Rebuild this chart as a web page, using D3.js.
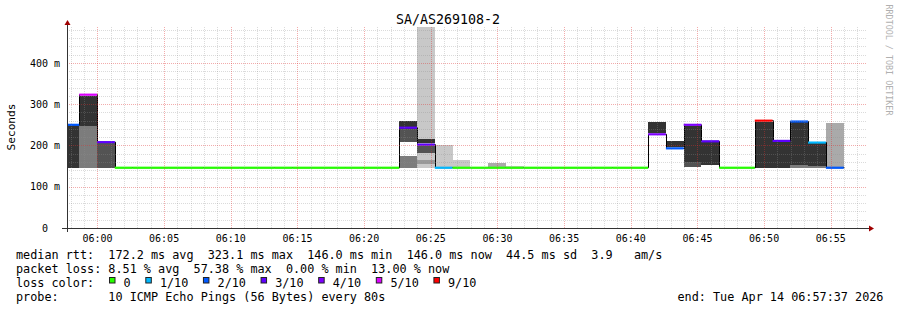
<!DOCTYPE html>
<html>
<head>
<meta charset="utf-8">
<script src="https://cdn.jsdelivr.net/npm/d3@7"></script>
<style>
body { margin: 0; background: #fff; }
text { font-family: "DejaVu Sans Mono", monospace; white-space: pre; }
</style>
</head>
<body>
<div id="chart"></div>
<script>
var title = "SA/AS269108-2";
var viewStart = "2026-04-14T05:57:43Z";
var viewEnd = "2026-04-14T06:57:43Z";
var firstStepEnd = "2026-04-14T05:58:38Z";
var stepSeconds = 80;

// median rtt per 80s step (ms)
var median = [250, 323, 208,
    146, 146, 146, 146, 146, 146, 146, 146, 146, 146, 146, 146, 146, 146, 146, 146,
    243, 202, 146, 146, 146, 146, 146, 146, 146, 146, 146, 146, 146, 146,
    227, 193, 250, 210, 146, 146, 260, 211, 258, 207, 146];

// lost pings out of 10 per step
var loss = [2, 5, 3,
    0, 0, 0, 0, 0, 0, 0, 0, 0, 0, 0, 0, 0, 0, 0, 0,
    3, 3, 1, 0, 0, 0, 0, 0, 0, 0, 0, 0, 0, 0,
    4, 2, 4, 3, 0, 0, 9, 3, 2, 1, 2];

// smoke bands per step: [low ms, high ms, density 1..6]
var smoke = [
    [[146, 249, 6]],
    [[146, 247, 4], [247, 321, 6]],
    [[146, 206, 5]],
    [], [], [], [], [], [], [], [], [], [], [], [], [], [], [], [],
    [[146, 175, 4], [209, 240, 5], [240, 259, 6]],
    [[146, 495, 1], [154, 165, 3], [181, 199, 5], [205, 215, 6]],
    [[146, 200, 1]],
    [[146, 165, 1]],
    [],
    [[146, 157, 2]],
    [[146, 150, 1]],
    [], [], [], [], [], [], [],
    [[229, 258, 6]],
    [[196, 211, 6]],
    [[149, 159, 5], [159, 248, 6]],
    [[153, 208, 6]],
    [], [],
    [[146, 258, 6]],
    [[146, 209, 6]],
    [[146, 153, 4], [153, 257, 6]],
    [[146, 150, 4], [150, 206, 6]],
    [[146, 255, 2]]
];

var yTicks = [0, 100, 200, 300, 400];
var yTickLabels = ["0  ", "100 m", "200 m", "300 m", "400 m"];

var lossLevels = [0, 1, 2, 3, 4, 5, 9];
var lossLabels = ["0", "1/10", "2/10", "3/10", "4/10", "5/10", "9/10"];
var lossColors = ["#26ff00", "#00b8ff", "#0059ff", "#5e00ff", "#7e00ff", "#dd00ff", "#ff0000"];

var legendLines = [
    "median rtt:  172.2 ms avg  323.1 ms max  146.0 ms min  146.0 ms now  44.5 ms sd  3.9   am/s",
    "packet loss: 8.51 % avg  57.38 % max  0.00 % min  13.00 % now",
    "loss color:",
    "probe:       10 ICMP Echo Pings (56 Bytes) every 80s"
];
var endLabel = "end: Tue Apr 14 06:57:37 2026";

function draw() {
    var W = 897, H = 310;
    var pLeft = 67, pRight = 867, pTop = 27, pBottom = 228;

    var svg = d3.select("#chart").append("svg")
        .attr("width", W).attr("height", H)
        .style("display", "block");

    svg.append("rect").attr("width", W).attr("height", H).attr("fill", "#fff");

    var x = d3.scaleUtc()
        .domain([new Date(viewStart), new Date(viewEnd)])
        .range([pLeft, pRight]);
    var y = d3.scaleLinear().domain([0, 487]).range([pBottom, pTop]);

    var shade = d3.scaleOrdinal()
        .domain([1, 2, 3, 4, 5, 6])
        .range(["#c8c8c8", "#aaaaaa", "#999999", "#7c7c7c", "#535353", "#333333"]);
    var lossColor = d3.scaleOrdinal().domain(lossLevels).range(lossColors);
    function colorFor(l) {
        // nearest legend level at or below the loss
        var c = lossLevels.filter(function(v) { return v <= l; });
        return lossColor(c[c.length - 1]);
    }

    var t1 = new Date(firstStepEnd).getTime();
    var steps = median.map(function(m, i) {
        var end = new Date(t1 + i * stepSeconds * 1000);
        var start = new Date(end.getTime() - stepSeconds * 1000);
        return { start: start, end: end, median: m, loss: loss[i], smoke: smoke[i] };
    });

    svg.append("clipPath").attr("id", "plot")
        .append("rect").attr("x", pLeft).attr("y", pTop)
        .attr("width", pRight - pLeft).attr("height", pBottom - pTop);

    var g = svg.append("g").attr("clip-path", "url(#plot)");

    // smoke
    var stepG = g.selectAll("g.step").data(steps).enter().append("g").attr("class", "step");
    stepG.selectAll("rect")
        .data(function(d) { return d.smoke.map(function(b) { return { d: d, b: b }; }); })
        .enter().append("rect")
        .attr("x", function(o) { return x(o.d.start); })
        .attr("width", function(o) { return x(o.d.end) - x(o.d.start); })
        .attr("y", function(o) { return y(o.b[1]); })
        .attr("height", function(o) { return y(o.b[0]) - y(o.b[1]); })
        .attr("fill", function(o) { return shade(o.b[2]); })
        .attr("shape-rendering", "crispEdges");

    // grid on top of smoke
    var minorX = d3.utcMinute.every(1).range(x.domain()[0], x.domain()[1]);
    var majorX = x.ticks(d3.utcMinute.every(5));
    var minorY = d3.range(20, 487, 20);
    var minorCol = "rgba(143,143,143,0.32)", majorCol = "rgba(222,48,48,0.4)";
    var grid = svg.append("g").attr("shape-rendering", "crispEdges").attr("stroke-dasharray", "1,1");
    grid.selectAll("line.vx").data(minorX.filter(function(t) { return t.getUTCMinutes() % 5 !== 0; }))
        .enter().append("line")
        .attr("x1", function(d) { return Math.round(x(d)) + 0.5; })
        .attr("x2", function(d) { return Math.round(x(d)) + 0.5; })
        .attr("y1", pTop).attr("y2", pBottom)
        .attr("stroke", minorCol);
    grid.selectAll("line.hy").data(minorY.filter(function(v) { return v % 100 !== 0; }))
        .enter().append("line")
        .attr("x1", pLeft).attr("x2", pRight)
        .attr("y1", function(d) { return Math.round(y(d)) + 0.5; })
        .attr("y2", function(d) { return Math.round(y(d)) + 0.5; })
        .attr("stroke", minorCol);
    grid.selectAll("line.mx").data(majorX)
        .enter().append("line")
        .attr("x1", function(d) { return Math.round(x(d)) + 0.5; })
        .attr("x2", function(d) { return Math.round(x(d)) + 0.5; })
        .attr("y1", pTop).attr("y2", pBottom)
        .attr("stroke", majorCol);
    grid.selectAll("line.my").data(yTicks.slice(1))
        .enter().append("line")
        .attr("x1", pLeft).attr("x2", pRight)
        .attr("y1", function(d) { return Math.round(y(d)) + 0.5; })
        .attr("y2", function(d) { return Math.round(y(d)) + 0.5; })
        .attr("stroke", majorCol);

    // thin black median step line
    var pts = steps.map(function(d) { return [d.start, d.median]; });
    pts.push([steps[steps.length - 1].end, steps[steps.length - 1].median]);
    g.append("path")
        .attr("d", d3.line()
            .x(function(p) { return Math.round(x(p[0])) + 0.5; })
            .y(function(p) { return y(p[1]); })
            .curve(d3.curveStepAfter)(pts))
        .attr("fill", "none").attr("stroke", "#000").attr("stroke-width", 1);

    // coloured median segments
    g.selectAll("line.med").data(steps).enter().append("line")
        .attr("x1", function(d) { return x(d.start); })
        .attr("x2", function(d) { return x(d.end); })
        .attr("y1", function(d) { return y(d.median); })
        .attr("y2", function(d) { return y(d.median); })
        .attr("stroke", function(d) { return colorFor(d.loss); })
        .attr("stroke-width", 2.2);

    // axes
    var axisColor = "#333";
    svg.append("line").attr("x1", pLeft + 0.5).attr("x2", pLeft + 0.5)
        .attr("y1", pBottom + 4).attr("y2", pTop - 3)
        .attr("stroke", axisColor).attr("shape-rendering", "crispEdges");
    svg.append("line").attr("x1", pLeft - 5).attr("x2", pRight + 2)
        .attr("y1", pBottom + 0.5).attr("y2", pBottom + 0.5)
        .attr("stroke", axisColor).attr("shape-rendering", "crispEdges");
    svg.append("path").attr("d", "M" + (pLeft + 0.5) + "," + (pTop - 7) + "l3,5h-6z").attr("fill", "#a00000");
    svg.append("path").attr("d", "M" + (pRight + 7) + "," + (pBottom + 0.5) + "l-5,-3v6z").attr("fill", "#a00000");

    // tick labels
    svg.selectAll("text.xt").data(majorX).enter().append("text")
        .attr("x", function(d) { return x(d); })
        .attr("y", 241.5)
        .attr("text-anchor", "middle")
        .attr("font-size", "10px")
        .attr("fill", "#000")
        .text(d3.utcFormat("%H:%M"));
    svg.selectAll("text.yt").data(yTicks).enter().append("text")
        .attr("x", 60)
        .attr("y", function(d) { return y(d) + 3.6; })
        .attr("text-anchor", "end")
        .attr("font-size", "10px")
        .attr("fill", "#000")
        .text(function(d, i) { return yTickLabels[i]; });

    // title, axis label, watermark
    svg.append("text").attr("x", 448).attr("y", 24).attr("text-anchor", "middle")
        .attr("font-size", "13.3px").attr("fill", "#000").text(title);
    svg.append("text").attr("transform", "translate(15,127) rotate(-90)")
        .attr("text-anchor", "middle").attr("font-size", "11.2px").attr("fill", "#000").text("Seconds");
    svg.append("text").attr("transform", "translate(886,60) rotate(90)")
        .attr("text-anchor", "middle").attr("font-size", "8.4px").attr("fill", "#b0b0b0")
        .text("RRDTOOL / TOBI OETIKER");

    // legend
    var lineY = [259, 272.5, 286.5, 300.5];
    var fs = 11.8, cw = fs * 0.602;
    legendLines.forEach(function(s, i) {
        svg.append("text").attr("x", 16).attr("y", lineY[i])
            .attr("font-size", fs + "px").attr("fill", "#000").text(s);
    });
    var lx = 109;
    lossLabels.forEach(function(lab, i) {
        svg.append("rect").attr("x", lx + 0.5).attr("y", 277.5).attr("width", 5.5).attr("height", 5.5)
            .attr("fill", lossColors[i]).attr("stroke", "#222").attr("stroke-width", 1);
        svg.append("text").attr("x", lx + 14.6).attr("y", lineY[2])
            .attr("font-size", fs + "px").attr("fill", "#000").text(lab);
        lx += 15 + (lab.length + 2) * cw;
    });
    svg.append("text").attr("x", 677.5).attr("y", lineY[3])
        .attr("font-size", fs + "px").attr("fill", "#000").text(endLabel);
}

draw();
</script>
</body>
</html>
